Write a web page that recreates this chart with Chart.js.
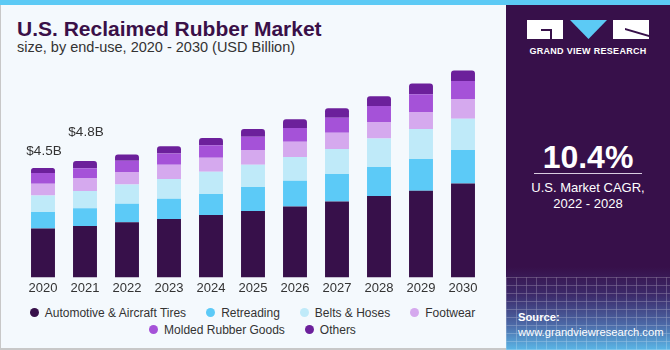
<!DOCTYPE html>
<html>
<head>
<meta charset="utf-8">
<script src="https://cdn.jsdelivr.net/npm/chart.js@4.4.0/dist/chart.umd.min.js"></script>
<style>
  html, body { margin: 0; padding: 0; }
  body { width: 670px; height: 350px; position: relative; overflow: hidden; background: #f4f9fd; font-family: "Liberation Sans", Arial, sans-serif; }
  #topbar { position: absolute; left: 0; top: 0; width: 670px; height: 5px; background: #5ccaf5; }
  #frame { position: absolute; left: 0; top: 5px; width: 669px; height: 343px; border-left: 1px solid #c8c8c8; border-bottom: 2px solid #c8c8c8; }
  #title { position: absolute; left: 17px; top: 17px; font-size: 21px; font-weight: bold; color: #3a1048; }
  #subtitle { position: absolute; left: 17px; top: 39px; font-size: 14.5px; color: #333; }
  #wrap { position: absolute; left: 0; top: 58px; width: 505px; height: 244px; }
  #legend { position: absolute; left: 0; top: 304px; width: 505px; font-size: 12px; color: #333; }
  .lrow { display: flex; justify-content: center; height: 17px; align-items: center; }
  .litem { display: flex; align-items: center; margin: 0 10px; white-space: nowrap; }
  .ldot { width: 9px; height: 9px; border-radius: 50%; margin-right: 6px; }
  #panel { position: absolute; left: 506px; top: 5px; width: 164px; height: 345px; overflow: hidden;
    background: linear-gradient(to bottom, #37104a 0px, #37104a 262px, #3c2a6a 290px, #4c6aa8 320px, #5bb6e6 345px); color: #fff; }
  #grid { position: absolute; left: 0; top: 272px; width: 164px; height: 73px; opacity: 0.35;
    background-image: repeating-linear-gradient(0deg, rgba(255,255,255,0.6) 0 1px, transparent 1px 8px),
                      repeating-linear-gradient(90deg, rgba(255,255,255,0.6) 0 1px, transparent 1px 10px); }
  #gvr { position: absolute; left: 0; top: 41px; width: 164px; text-align: center; font-size: 9px; font-weight: bold; letter-spacing: 0.3px; }
  #cagr { position: absolute; left: 0; top: 134px; width: 164px; text-align: center; font-size: 32px; font-weight: bold; }
  #rule { position: absolute; left: 28px; top: 168px; width: 108px; height: 1px; background: #d9cde0; }
  #cagrtxt { position: absolute; left: 0; top: 175px; width: 164px; text-align: center; font-size: 13px; line-height: 16px; }
  #source { position: absolute; left: 12px; top: 305px; font-size: 11.2px; line-height: 15px; }
</style>
</head>
<body>
<div id="topbar"></div>
<div id="frame"></div>
<div id="title">U.S. Reclaimed Rubber Market</div>
<div id="subtitle">size, by end-use, 2020 - 2030 (USD Billion)</div>
<div id="wrap"><canvas id="chart"></canvas></div>
<div id="legend"></div>
<div id="panel">
  <div id="grid"></div>
  <svg style="position:absolute;left:21px;top:15px" width="122" height="20">
    <rect x="0" y="0" width="36" height="19" fill="#fff"/>
    <path d="M14 9 H25 V19 H23 V11 H14 Z" fill="#37104a"/>
    <polygon points="43,0 80,0 61.5,19" fill="#5ccaf5"/>
    <rect x="86" y="0" width="36" height="19" fill="#fff"/>
    <path d="M98 8 L122 15 L122 17 L98 10 Z" fill="#37104a"/>
  </svg>
  <div id="gvr">GRAND VIEW RESEARCH</div>
  <div id="cagr">10.4%</div>
  <div id="rule"></div>
  <div id="cagrtxt">U.S. Market CAGR,<br>2022 - 2028</div>
  <div id="source"><b>Source:</b><br>www.grandviewresearch.com</div>
</div>
<script>
// años del eje x
const years = ["2020", "2021", "2022", "2023", "2024", "2025", "2026", "2027", "2028", "2029", "2030"];

// valores por segmento (USD Billion)
const automotive = [2.01, 2.12, 2.27, 2.41, 2.57, 2.74, 2.92, 3.13, 3.35, 3.57, 3.87];
const retreading = [0.69, 0.73, 0.76, 0.83, 0.87, 0.99, 1.06, 1.13, 1.20, 1.31, 1.38];
const beltsHoses = [0.68, 0.71, 0.80, 0.81, 0.91, 0.91, 0.98, 1.03, 1.17, 1.24, 1.29];
const footwear   = [0.48, 0.54, 0.51, 0.59, 0.58, 0.61, 0.63, 0.67, 0.68, 0.70, 0.81];
const molded     = [0.44, 0.40, 0.47, 0.47, 0.52, 0.55, 0.57, 0.62, 0.66, 0.73, 0.74];
const others     = [0.21, 0.30, 0.25, 0.29, 0.29, 0.32, 0.36, 0.39, 0.41, 0.44, 0.44];

// etiquetas de valor sobre las primeras barras
const totalLabels = ["$4.5B", "$4.8B"];
const labelGap = [10, 22];

const segNames = ["Automotive & Aircraft Tires", "Retreading", "Belts & Hoses", "Footwear", "Molded Rubber Goods", "Others"];
const segValues = [automotive, retreading, beltsHoses, footwear, molded, others];
const segColors = ["#37104a", "#5ccaf7", "#bfeaf9", "#d5a9ee", "#a552d8", "#6c209b"];

const datasets = segNames.map((name, i) => ({
  label: name,
  data: segValues[i],
  backgroundColor: segColors[i],
  borderWidth: 0,
  borderRadius: i === segNames.length - 1 ? { topLeft: 3, topRight: 3 } : 0,
  borderSkipped: false,
  categoryPercentage: 1,
  barPercentage: 0.57,
}));

// leyenda en HTML (dos filas como en el original)
const legendRows = [[0, 1, 2, 3], [4, 5]];
const legendDiv = document.getElementById("legend");
legendRows.forEach(row => {
  const r = document.createElement("div");
  r.className = "lrow";
  row.forEach(i => {
    const item = document.createElement("div");
    item.className = "litem";
    const dot = document.createElement("span");
    dot.className = "ldot";
    dot.style.background = segColors[i];
    item.appendChild(dot);
    item.appendChild(document.createTextNode(segNames[i]));
    r.appendChild(item);
  });
  legendDiv.appendChild(r);
});

// plugin para dibujar los totales
const totalsPlugin = {
  id: "totals",
  afterDatasetsDraw(chart) {
    const ctx = chart.ctx;
    const yScale = chart.scales.y;
    const xScale = chart.scales.x;
    ctx.save();
    ctx.font = "13.5px 'Liberation Sans', Arial, sans-serif";
    ctx.fillStyle = "#333";
    ctx.textAlign = "center";
    ctx.textBaseline = "bottom";
    totalLabels.forEach((txt, i) => {
      let total = 0;
      segValues.forEach(arr => { total += arr[i]; });
      ctx.fillText(txt, xScale.getPixelForValue(i) + 1, yScale.getPixelForValue(total) - labelGap[i]);
    });
    ctx.restore();
  }
};

new Chart(document.getElementById("chart"), {
  type: "bar",
  data: { labels: years, datasets: datasets },
  options: {
    responsive: true,
    maintainAspectRatio: false,
    animation: false,
    layout: { padding: { left: 22, right: 21, top: 1, bottom: 3 } },
    scales: {
      x: {
        stacked: true,
        grid: { display: false, drawTicks: false },
        border: { display: false },
        ticks: { color: "#333", font: { size: 13, family: "'Liberation Sans', Arial, sans-serif" }, padding: 3 },
      },
      y: {
        stacked: true,
        display: false,
        min: 0,
        max: 9,
      },
    },
    plugins: {
      legend: { display: false },
      tooltip: { enabled: false },
    },
  },
  plugins: [totalsPlugin],
});
</script>
</body>
</html>
